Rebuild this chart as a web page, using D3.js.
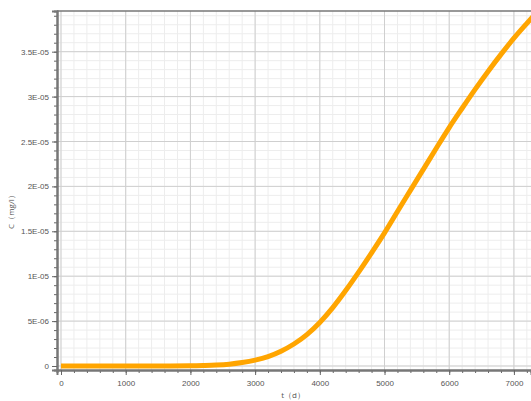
<!DOCTYPE html>
<html>
<head>
<meta charset="utf-8">
<script src="https://cdn.jsdelivr.net/npm/d3@7"></script>
<style>
body { margin: 0; background: #fff; }
svg { display: block; font-family: "Open Sans", "DejaVu Sans", sans-serif; }
</style>
</head>
<body>
<div id="chart"></div>
<script>
// time (d)
var tValues = [0, 500, 1000, 1500, 2000, 2200, 2400, 2600, 2800, 3000, 3200, 3400, 3600, 3800, 4000,
  4200, 4400, 4600, 4800, 5000, 5200, 5400, 5600, 5800, 6000, 6200, 6400, 6600, 6800, 7000, 7200, 7300];
// concentration (mg/l)
var cValues = [0, 0, 0, 0, 0.02e-6, 0.05e-6, 0.1e-6, 0.2e-6, 0.38e-6, 0.65e-6, 1.05e-6, 1.65e-6, 2.45e-6, 3.5e-6, 4.85e-6,
  6.5e-6, 8.4e-6, 10.45e-6, 12.6e-6, 14.82e-6, 17.2e-6, 19.55e-6, 21.9e-6, 24.25e-6, 26.55e-6, 28.7e-6, 30.8e-6, 32.8e-6, 34.7e-6, 36.5e-6, 38.15e-6, 38.95e-6];

var xTicks = [0, 1000, 2000, 3000, 4000, 5000, 6000, 7000];
var yTicks = [0, 5e-6, 1e-5, 1.5e-5, 2e-5, 2.5e-5, 3e-5, 3.5e-5];
var xTitle = "t（d）";
var yTitle = "C（mg/l）";

var w = 531, h = 401;
var pLeft = 57, pRight = 531, pTop = 11, pBottom = 370;

var x = d3.scaleLinear().domain([-62, 7264]).range([pLeft, pRight]);
var y = d3.scaleLinear().domain([-0.445e-6, 3.953e-5]).range([pBottom, pTop]);

var xMinor = d3.range(0, 7300, 200);
var yMinor = d3.range(0, 40).map(function(i){ return i * 1e-6; });

function fmt(v){
  if (v === 0) return "0";
  var p = v.toExponential().split("e");
  var m = +(+p[0]).toFixed(2);
  var e = +p[1];
  return m + "E" + (e < 0 ? "-" : "+") + String(Math.abs(e)).padStart(2, "0");
}

var svg = d3.select("#chart").append("svg").attr("width", w).attr("height", h);

// minor grid
svg.append("g").selectAll("line").data(xMinor).enter().append("line")
  .attr("x1", function(d){ return x(d); }).attr("x2", function(d){ return x(d); })
  .attr("y1", pTop).attr("y2", pBottom).attr("stroke", "#ededed").attr("stroke-width", 1);
svg.append("g").selectAll("line").data(yMinor).enter().append("line")
  .attr("x1", pLeft).attr("x2", pRight)
  .attr("y1", function(d){ return y(d); }).attr("y2", function(d){ return y(d); })
  .attr("stroke", "#ededed").attr("stroke-width", 1);

// major grid
svg.append("g").selectAll("line").data(xTicks).enter().append("line")
  .attr("x1", function(d){ return x(d); }).attr("x2", function(d){ return x(d); })
  .attr("y1", pTop).attr("y2", pBottom).attr("stroke", "#cfcfcf").attr("stroke-width", 1);
svg.append("g").selectAll("line").data(yTicks).enter().append("line")
  .attr("x1", pLeft).attr("x2", pRight)
  .attr("y1", function(d){ return y(d); }).attr("y2", function(d){ return y(d); })
  .attr("stroke", "#cfcfcf").attr("stroke-width", 1);

// frame
svg.append("line").attr("x1", pLeft).attr("x2", pRight).attr("y1", pTop).attr("y2", pTop)
  .attr("stroke", "#777").attr("stroke-width", 1.5);

// axes
var xAxis = svg.append("g").attr("transform", "translate(0," + pBottom + ")");
xAxis.call(d3.axisBottom(x).tickValues(xMinor).tickSize(3).tickFormat(""));
xAxis.append("g").call(d3.axisBottom(x).tickValues(xTicks).tickSize(5).tickFormat(d3.format("d")));
var yAxis = svg.append("g").attr("transform", "translate(" + pLeft + ",0)");
yAxis.call(d3.axisLeft(y).tickValues(yMinor).tickSize(3).tickFormat(""));
yAxis.append("g").call(d3.axisLeft(y).tickValues(yTicks).tickSize(5).tickFormat(fmt));

svg.selectAll(".domain").attr("stroke", "#777").attr("stroke-width", 2);
svg.selectAll(".tick line").attr("stroke", "#666");
svg.selectAll(".tick text").attr("fill", "#555").style("font-size", "8px");
xAxis.selectAll(".tick text").attr("dy", "1em");

// curve
var line = d3.line()
  .x(function(d, i){ return x(tValues[i]); })
  .y(function(d){ return y(d); })
  .curve(d3.curveMonotoneX);
svg.append("path").datum(cValues).attr("d", line)
  .attr("fill", "none").attr("stroke", "#FFA500").attr("stroke-width", 5)
  .attr("stroke-linejoin", "round");

// titles
svg.append("text").attr("x", 293).attr("y", 398).attr("text-anchor", "middle")
  .attr("fill", "#555").style("font-size", "8px").text(xTitle);
svg.append("text").attr("transform", "translate(14,210) rotate(-90)").attr("text-anchor", "middle")
  .attr("fill", "#555").style("font-size", "8px").text(yTitle);
</script>
</body>
</html>
